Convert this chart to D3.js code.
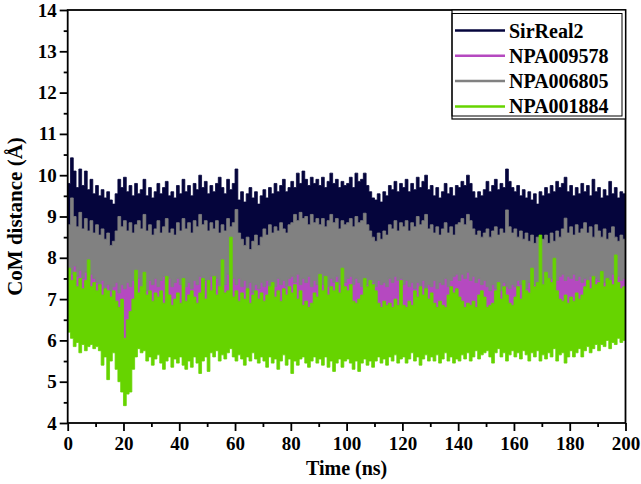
<!DOCTYPE html>
<html>
<head>
<meta charset="utf-8">
<script src="https://cdn.jsdelivr.net/npm/d3@7"></script>
<style>
  body { margin: 0; background: #fff; }
  text { font-family: "Liberation Serif", "Times New Roman", serif; font-weight: bold; fill: #000; }
</style>
</head>
<body>
<div id="chart"></div>
<script>
// CoM distance vs time, 4 ligands. Each trace is dense MD noise, so it is kept
// as an upper and a lower envelope (1 ns steps for the
// visible edges, 5 ns steps for the edges that are hidden under other traces).

var seriesNames = ["SirReal2", "NPA009578", "NPA006805", "NPA001884"];
var seriesColors = ["#05053c", "#b549c0", "#818181", "#66d400"];

var xTicks = [0, 20, 40, 60, 80, 100, 120, 140, 160, 180, 200];
var yTicks = [4, 5, 6, 7, 8, 9, 10, 11, 12, 13, 14];

// SirReal2 top edge (1 ns)
var sirHi = [
  9.8, 10.42, 10.1, 9.7, 10.15, 9.75, 10.1, 9.65, 9.9, 9.55,
  9.75, 9.5, 9.65, 9.45, 9.6, 9.4, 9.3, 9.55, 9.9, 9.7,
  9.95, 9.6, 9.75, 9.5, 9.8, 9.55, 9.65, 9.9, 9.5, 9.7,
  9.45, 9.6, 9.8, 9.55, 9.7, 9.85, 9.5, 9.6, 9.45, 9.75,
  9.55, 9.9, 9.6, 9.75, 9.5, 9.8, 9.65, 10.0, 9.7, 9.85,
  9.55, 9.75, 9.6, 9.8, 9.95, 9.7, 9.55, 9.9, 9.65, 9.8,
  10.15, 9.4, 9.6, 9.35, 9.55, 9.7, 9.45, 9.6, 9.3, 9.5,
  9.65, 9.45, 9.7, 9.55, 9.8, 9.6, 9.75, 9.9, 9.6, 9.7,
  9.85, 9.7, 10.05, 9.8, 10.1, 9.9, 9.75, 9.95, 9.8, 9.9,
  9.75, 9.95, 9.7, 9.85, 10.05, 9.8, 9.9, 9.7, 9.85, 9.75,
  9.8, 9.95, 9.7, 10.05, 9.85, 9.9, 10.05, 9.75, 9.6, 9.45,
  9.4, 9.55, 9.35, 9.6, 9.5, 9.75, 9.65, 9.85, 9.6, 9.8,
  9.7, 9.9, 9.6, 9.8, 9.65, 9.95, 9.7, 9.85, 10.0, 9.65,
  9.75, 9.5, 9.7, 9.45, 9.6, 9.8, 9.55, 9.7, 9.5, 9.75,
  9.7, 9.85, 9.75, 10.0, 9.8, 9.6, 9.45, 9.6, 9.5, 9.65,
  9.85, 9.6, 9.75, 9.9, 9.65, 9.8, 9.7, 10.15, 9.85, 9.7,
  9.6, 9.75, 9.5, 9.65, 9.45, 9.6, 9.4, 9.55, 9.3, 9.6,
  9.5, 9.7, 9.55, 9.75, 9.6, 9.85, 9.7, 9.8, 9.95, 9.6,
  9.75, 9.5, 9.7, 9.55, 9.8, 9.6, 9.75, 9.5, 9.9, 9.6,
  9.7, 9.45, 9.65, 9.5, 9.85, 9.55, 9.7, 9.45, 9.6, 9.55,
  9.5
];
// SirReal2 bottom edge (5 ns, under the grey trace)
var sirLo = [
  8.1, 8.2, 8.0, 8.1, 8.2, 8.1, 8.2, 8.1, 8.2, 8.2,
  8.1, 8.2, 8.0, 8.0, 8.1, 8.2, 8.2, 8.3, 8.3, 8.2,
  8.2, 8.1, 8.2, 8.2, 8.3, 8.2, 8.2, 8.2, 8.3, 8.2,
  8.2, 8.1, 8.2, 8.1, 8.1, 8.1, 8.2, 8.2, 8.1, 8.1,
  8.1
];

// NPA009578 (5 ns, mostly hidden between grey and green)
var npa9578Hi = [
  7.85, 7.7, 7.55, 7.5, 7.55, 7.6, 7.65, 7.6, 7.6, 7.65,
  7.65, 7.7, 7.6, 7.5, 7.55, 7.6, 7.7, 7.65, 7.6, 7.65,
  7.65, 7.55, 7.55, 7.65, 7.55, 7.55, 7.55, 7.7, 7.75, 7.65,
  7.45, 7.5, 7.55, 7.5, 7.6, 7.7, 7.7, 7.65, 7.65, 7.7,
  7.65
];
var npa9578Lo = [
  6.4, 6.3, 6.35, 6.2, 6.05, 6.3, 6.4, 6.3, 6.35, 6.3,
  6.4, 6.35, 6.3, 6.4, 6.35, 6.3, 6.4, 6.3, 6.35, 6.4,
  6.3, 6.35, 6.3, 6.4, 6.35, 6.3, 6.4, 6.35, 6.3, 6.4,
  6.35, 6.4, 6.3, 6.35, 6.4, 6.3, 6.35, 6.4, 6.35, 6.4,
  6.4
];

// NPA006805 (1 ns)
var npa6805Hi = [
  8.8, 9.45, 9.0, 8.75, 9.1, 8.7, 8.95, 8.65, 8.9, 8.6,
  8.8, 8.55, 8.7, 8.45, 8.6, 8.3, 8.4, 8.65, 9.0, 8.75,
  8.9, 8.65, 8.85, 8.6, 8.8, 8.9, 8.7, 9.05, 8.65, 8.8,
  8.55, 8.7, 8.9, 8.6, 8.75, 8.95, 8.6, 8.7, 8.55, 8.85,
  8.65, 8.95, 8.7, 8.85, 8.6, 8.9, 8.75, 9.05, 8.8, 8.9,
  8.65, 8.85, 8.7, 8.9, 8.6, 8.8, 8.65, 8.95, 8.75, 8.85,
  9.17, 8.6, 8.45, 8.3, 8.5, 8.2, 8.4, 8.55, 8.3, 8.5,
  8.7, 8.55, 8.8, 8.6, 8.75, 8.65, 8.85, 8.7, 8.6, 8.8,
  8.85, 9.05, 8.9, 9.1, 8.95, 9.0, 8.8, 9.05, 8.85, 8.95,
  8.8, 8.95, 8.75, 8.9, 9.05, 8.85, 8.95, 8.7, 8.9, 8.8,
  8.85, 8.95, 8.75, 9.0, 8.85, 8.9, 9.08, 8.8, 8.65, 8.5,
  8.4, 8.6, 8.45, 8.65, 8.55, 8.8, 8.7, 8.9, 8.65, 8.85,
  8.75, 8.9, 8.65, 8.85, 8.75, 9.0, 8.8, 8.9, 9.05, 8.7,
  8.8, 8.6, 8.75, 8.55, 8.7, 8.85, 8.6, 8.75, 8.55, 8.8,
  8.85, 8.95, 8.8, 9.05, 8.9, 8.7, 8.55, 8.65, 8.5, 8.6,
  8.7, 8.5, 8.65, 8.75, 8.55, 8.7, 8.6, 9.16, 8.75, 8.6,
  8.7, 8.5, 8.65, 8.45, 8.6, 8.4, 8.55, 8.35, 8.5, 8.3,
  8.45, 8.55, 8.35, 8.6, 8.4, 8.65, 8.5, 8.7, 8.96, 8.6,
  8.75, 8.55, 8.8, 8.6, 8.7, 8.85, 8.6, 8.75, 8.5, 8.8,
  8.65, 8.5, 8.7, 8.45, 8.6, 8.75, 8.5, 8.4, 8.55, 8.45,
  8.5
];
var npa6805Lo = [
  7.75, 7.6, 7.8, 7.55, 7.7, 7.5, 7.65, 7.45, 7.6, 7.5,
  7.4, 7.3, 7.45, 7.25, 7.35, 7.2, 7.3, 7.4, 7.15, 7.35,
  7.25, 7.4, 7.3, 7.45, 7.35, 7.5, 7.3, 7.4, 7.2, 7.45,
  7.35, 7.5, 7.3, 7.45, 7.55, 7.35, 7.5, 7.3, 7.4, 7.5,
  7.35, 7.5, 7.3, 7.4, 7.25, 7.45, 7.35, 7.55, 7.3, 7.45,
  7.4, 7.55, 7.35, 7.5, 7.3, 7.45, 7.35, 7.6, 7.4, 7.5,
  7.35, 7.5, 7.3, 7.45, 7.2, 7.4, 7.15, 7.35, 7.25, 7.4,
  7.3, 7.45, 7.2, 7.4, 7.3, 7.5, 7.35, 7.45, 7.3, 7.5,
  7.55, 7.4, 7.6, 7.35, 7.5, 7.4, 7.55, 7.3, 7.45, 7.35,
  7.5, 7.35, 7.45, 7.3, 7.5, 7.4, 7.55, 7.35, 7.45, 7.4,
  7.5, 7.55, 7.35, 7.5, 7.4, 7.3, 7.45, 7.35, 7.25, 7.4,
  7.3, 7.45, 7.35, 7.4, 7.3, 7.5, 7.4, 7.55, 7.45, 7.5,
  7.35, 7.45, 7.3, 7.4, 7.25, 7.4, 7.3, 7.45, 7.2, 7.35,
  7.3, 7.45, 7.25, 7.4, 7.35, 7.5, 7.3, 7.45, 7.55, 7.6,
  7.45, 7.6, 7.5, 7.65, 7.45, 7.55, 7.4, 7.5, 7.35, 7.45,
  7.3, 7.2, 7.35, 7.25, 7.3, 7.2, 7.4, 7.3, 7.25, 7.35,
  7.3, 7.45, 7.35, 7.4, 7.25, 7.4, 7.3, 7.35, 7.2, 7.4,
  7.3, 7.45, 7.35, 7.5, 7.35, 7.45, 7.55, 7.6, 7.45, 7.55,
  7.5, 7.6, 7.45, 7.55, 7.4, 7.5, 7.45, 7.55, 7.4, 7.5,
  7.45, 7.55, 7.4, 7.5, 7.45, 7.6, 7.5, 7.55, 7.45, 7.5,
  7.5
];

// NPA001884 (1 ns)
var npa1884Hi = [
  7.75, 7.45, 7.65, 7.3, 7.5, 7.25, 7.45, 7.95, 7.3, 7.4,
  7.2, 7.35, 7.1, 7.25, 7.2, 7.05, 7.2, 6.95, 6.8, 7.0,
  6.05, 6.5, 6.7, 7.0, 7.7, 7.15, 7.3, 7.65, 7.1, 7.2,
  6.95, 7.15, 7.05, 7.2, 6.9, 7.55, 7.1, 6.85, 7.0, 7.15,
  6.9, 7.5, 6.95, 7.1, 7.2, 7.05, 6.9, 7.15, 7.5, 7.0,
  7.45, 7.2, 7.55, 7.1, 7.3, 7.95, 7.15, 7.2, 8.5, 7.05,
  7.2, 6.95, 7.15, 7.0, 7.25, 6.9, 7.1, 7.2, 7.0, 7.15,
  6.95, 7.1, 7.3, 7.4, 7.05, 7.2, 6.95, 7.25, 7.1, 7.3,
  7.15, 7.35, 7.0, 7.2, 6.85, 6.95, 6.8, 6.9, 7.15, 7.05,
  7.6, 7.2, 7.55, 7.1, 7.3, 7.2, 7.4, 7.15, 7.75, 7.3,
  7.2, 7.35, 6.95, 6.9, 7.0, 7.1, 7.5, 7.3, 7.45, 7.35,
  7.2, 6.9, 6.8, 6.95, 6.85, 6.9, 6.8, 7.0, 6.85, 7.45,
  6.85, 6.8, 6.95, 6.85, 7.2, 7.05, 7.3, 7.1, 7.25, 7.0,
  7.15, 6.9, 6.8, 6.95, 6.85, 6.8, 7.1, 7.3, 7.15, 7.25,
  7.05, 6.95, 6.8, 6.9, 6.85, 6.95, 6.8, 7.1, 7.2, 7.05,
  6.8, 6.85, 6.9, 7.2, 7.4, 7.0, 7.3, 7.1, 6.9, 6.85,
  7.05, 7.3, 7.0, 7.45, 7.2, 7.15, 7.75, 7.3, 7.4, 8.55,
  7.35, 7.65, 7.5, 7.4, 7.99, 7.2, 7.0, 6.95, 7.1, 6.9,
  7.05, 6.95, 7.15, 7.0, 7.1, 7.3, 7.45, 7.25, 7.55, 7.35,
  7.4, 7.67, 7.3, 7.5, 7.45, 7.35, 8.07, 7.4, 7.25, 7.3,
  7.2
];
var npa1884Lo = [
  6.2, 6.05, 5.85, 5.95, 5.7, 5.9, 5.75, 5.85, 5.9, 5.8,
  5.85, 5.75, 5.4, 5.6, 5.05, 5.5, 5.7, 5.3, 5.0, 4.75,
  4.42, 4.7, 4.75, 5.3, 5.6, 5.8, 5.7, 5.75, 5.5, 5.6,
  5.4, 5.55, 5.65, 5.45, 5.3, 5.5, 5.6, 5.35, 5.55, 5.45,
  5.6, 5.4, 5.3, 5.5, 5.35, 5.6, 5.45, 5.2, 5.5, 5.6,
  5.25, 5.7, 5.6, 5.75, 5.5, 5.65, 5.55, 5.7, 5.8, 5.6,
  5.5, 5.65, 5.55, 5.4, 5.6, 5.5, 5.7, 5.55, 5.45, 5.6,
  5.5, 5.35, 5.6, 5.45, 5.55, 5.3, 5.5, 5.65, 5.4, 5.55,
  5.2, 5.5, 5.4, 5.55, 5.6, 5.45, 5.35, 5.5, 5.6, 5.45,
  5.55, 5.4, 5.6, 5.35, 5.5, 5.25, 5.45, 5.55, 5.35, 5.5,
  5.55, 5.45, 5.3, 5.5, 5.25, 5.45, 5.55, 5.4, 5.5, 5.35,
  5.5, 5.6, 5.45, 5.55, 5.4, 5.6, 5.5, 5.65, 5.45, 5.55,
  5.6, 5.45, 5.55, 5.7, 5.5, 5.6, 5.4, 5.55, 5.65, 5.5,
  5.6, 5.5, 5.65, 5.45, 5.55, 5.7, 5.5, 5.6, 5.45, 5.55,
  5.5, 5.65, 5.55, 5.7, 5.5, 5.6, 5.75, 5.55, 5.65, 5.7,
  5.75, 5.6, 5.45, 5.7, 5.8, 5.6, 5.7, 5.5, 5.65, 5.75,
  5.6, 5.7, 5.55, 5.75, 5.65, 5.5, 5.7, 5.6, 5.75, 5.5,
  5.65, 5.55, 5.7, 5.6, 5.8, 5.5, 5.65, 5.7, 5.45, 5.6,
  5.75, 5.6, 5.7, 5.8, 5.6, 5.75, 5.85, 5.7, 5.8, 5.9,
  5.75, 5.9, 5.85, 6.0, 5.8, 5.95, 5.9, 6.05, 5.95, 6.0,
  5.9
];

var time = d3.range(0, 201, 1);      // 1 ns samples
var timeCoarse = d3.range(0, 201, 5); // 5 ns samples

(function () {
    var W = 641, H = 484;
    var margin = { top: 10, right: 15.5, bottom: 61, left: 67.7 };

    var svg = d3.select("#chart").append("svg")
        .attr("width", W)
        .attr("height", H);

    var x = d3.scaleLinear().domain([0, 200]).range([margin.left, W - margin.right]);
    var y = d3.scaleLinear().domain([4, 14]).range([H - margin.bottom, margin.top]);

    function band(data, color) {
        var area = d3.area()
            .curve(d3.curveStepAfter)
            .x(function (d) { return x(d.t); })
            .y0(function (d) { return y(d.lo); })
            .y1(function (d) { return y(d.hi); });
        svg.append("path")
            .datum(data)
            .attr("d", area)
            .attr("fill", color)
            .attr("stroke", color)
            .attr("stroke-width", 0.8)
            .attr("stroke-linejoin", "round");
    }

    // drawing order as in the legend: later traces sit on top
    band(time.map(function (t, i) { return { t: t, hi: sirHi[i], lo: sirLo[Math.floor(t / 5)] }; }), seriesColors[0]);
    band(timeCoarse.map(function (t, i) { return { t: t, hi: npa9578Hi[i], lo: npa9578Lo[i] }; }), seriesColors[1]);
    band(time.map(function (t, i) { return { t: t, hi: npa6805Hi[i], lo: npa6805Lo[i] }; }), seriesColors[2]);
    band(time.map(function (t, i) { return { t: t, hi: npa1884Hi[i], lo: npa1884Lo[i] }; }), seriesColors[3]);

    // axes
    var xAxis = svg.append("g")
        .attr("transform", "translate(0," + y(4) + ")")
        .call(d3.axisBottom(x).tickValues(xTicks).tickSize(8).tickFormat(d3.format("d")));
    svg.append("g")
        .attr("transform", "translate(0," + y(4) + ")")
        .call(d3.axisBottom(x).tickValues(d3.range(10, 200, 20)).tickSize(4).tickFormat(""));

    var yAxis = svg.append("g")
        .attr("transform", "translate(" + x(0) + ",0)")
        .call(d3.axisLeft(y).tickValues(yTicks).tickSize(8).tickFormat(d3.format("d")));
    svg.append("g")
        .attr("transform", "translate(" + x(0) + ",0)")
        .call(d3.axisLeft(y).tickValues(d3.range(4.5, 14, 1)).tickSize(4).tickFormat(""));

    svg.selectAll(".domain").remove();
    svg.selectAll(".tick line").attr("stroke", "#000").attr("stroke-width", 1.8);
    xAxis.selectAll("text").attr("y", 14).style("font-size", "19px");
    yAxis.selectAll("text").attr("x", -11).style("font-size", "19px");

    // frame
    svg.append("rect")
        .attr("x", x(0)).attr("y", y(14))
        .attr("width", x(200) - x(0)).attr("height", y(4) - y(14))
        .attr("fill", "none").attr("stroke", "#000").attr("stroke-width", 1.8);

    // axis titles
    svg.append("text")
        .attr("x", (x(0) + x(200)) / 2).attr("y", 475)
        .attr("text-anchor", "middle")
        .style("font-size", "20px")
        .text("Time (ns)");
    svg.append("text")
        .attr("transform", "translate(22," + (y(4) + y(14)) / 2 + ") rotate(-90)")
        .attr("text-anchor", "middle")
        .style("font-size", "21px")
        .text("CoM distance (\u00c5)");

    // legend (double border box in the top right corner)
    var lx = 452, ly = y(14), lw = x(200) - 452, lh = 109;
    svg.append("rect")
        .attr("x", lx).attr("y", ly).attr("width", lw).attr("height", lh)
        .attr("fill", "#fff").attr("stroke", "#000").attr("stroke-width", 1.2);
    svg.append("rect")
        .attr("x", lx).attr("y", ly + 3.5).attr("width", lw - 3.5).attr("height", lh - 6.5)
        .attr("fill", "none").attr("stroke", "#000").attr("stroke-width", 1);

    var rows = svg.selectAll(".leg")
        .data(seriesNames)
        .enter().append("g")
        .attr("transform", function (d, i) { return "translate(0," + (30.5 + i * 25.3) + ")"; });
    rows.append("line")
        .attr("x1", lx + 3).attr("x2", 505)
        .attr("stroke", function (d, i) { return seriesColors[i]; })
        .attr("stroke-width", 2.5);
    rows.append("text")
        .attr("x", 509).attr("y", 7)
        .style("font-size", "20px")
        .text(function (d) { return d; });
}) ();
</script>
</body>
</html>
